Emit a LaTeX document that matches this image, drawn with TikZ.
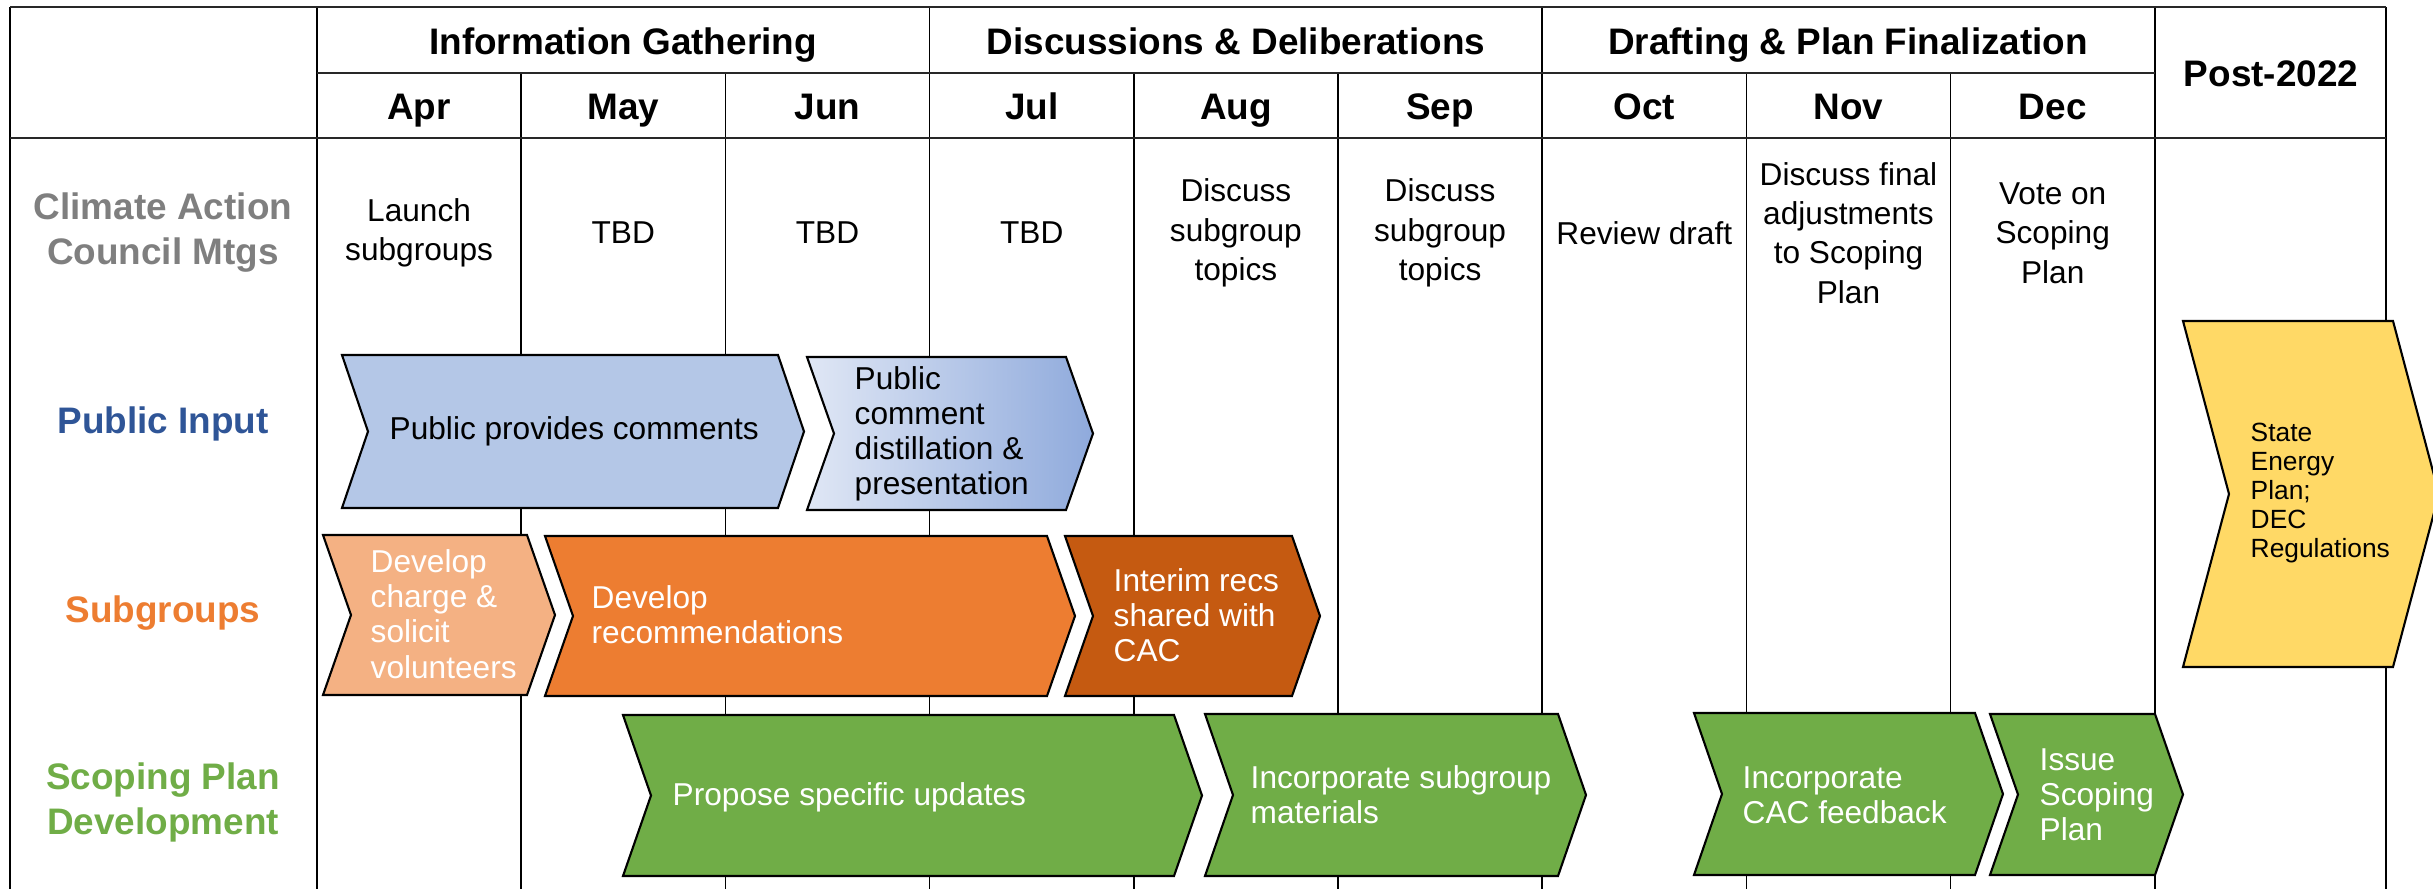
\documentclass[tikz,border=0pt]{standalone}
\usepackage{fontspec}
\setmainfont{Liberation Sans}
\definecolor{pubblue}{RGB}{180,199,231}
\definecolor{pubpale}{RGB}{224,231,245}
\definecolor{pubdeep}{RGB}{143,170,220}
\definecolor{sglight}{RGB}{244,177,131}
\definecolor{sgmid}{RGB}{237,125,49}
\definecolor{sgdark}{RGB}{197,90,17}
\definecolor{spgreen}{RGB}{112,173,71}
\definecolor{postyellow}{RGB}{255,217,102}
\definecolor{labgray}{RGB}{127,127,127}
\definecolor{labblue}{RGB}{47,85,151}
\definecolor{rulegray}{RGB}{40,40,40}
\tikzset{
  frame/.style={draw=rulegray, line width=0.8pt},
  gridline/.style={draw=black, line width=0.45pt},
  phase/.style={font=\fontsize{10.5}{12}\selectfont\bfseries, inner sep=0pt, anchor=base},
  month/.style={phase},
  rowlabel/.style={font=\fontsize{10.5}{12.8}\selectfont\bfseries, align=center, inner sep=0pt},
  cell/.style={font=\fontsize{9}{11.2}\selectfont, align=center, inner sep=0pt},
  chev/.style={draw=black, line width=0.6pt},
  chevtext/.style={font=\fontsize{9}{10}\selectfont, align=left, anchor=west, inner sep=0pt},
  posttext/.style={chevtext, font=\fontsize{7.5}{8.3}\selectfont}
}
% chevron: [depth] {style} {x left} {x right} {y top} {y bottom}
\newcommand{\chevshape}[6][28]{%
  \draw[chev,#2] (#3,#5) -- (#4,#5) -- ({#4+#1},{(#5+#6)/2}) -- (#4,#6)
    -- (#3,#6) -- ({#3+#1},{(#5+#6)/2}) -- cycle;}

\begin{document}
\begin{tikzpicture}[x=0.1mm,y=-0.1mm]
  \useasboundingbox (0,0) rectangle (2433,889);
  \clip (0,0) rectangle (2433,889);

  % table rules
  \foreach \i in {1,2,4,5,7,8}
    \draw[gridline] ({317+204.2*\i},73) -- ({317+204.2*\i},889);
  \foreach \i in {0,3,6,9}
    \draw[gridline] ({317+204.2*\i},7) -- ({317+204.2*\i},889);
  \draw[gridline] (10,7) -- (10,889);
  \draw[gridline] (2386,7) -- (2386,889);
  \draw[frame] (10,7) -- (2386,7);
  \draw[frame] (317,73) -- (2155,73);
  \draw[frame] (10,138) -- (2386,138);

  % header
  \node[phase] (info) at (623,55) {Information Gathering};
  \node[phase] (discuss) at (1236,55) {Discussions \& Deliberations};
  \node[phase] (drafting) at (1848,55) {Drafting \& Plan Finalization};
  \node[phase] (post) at (2271,87) {Post-2022};
  \foreach \m [count=\i] in {Apr,May,Jun,Jul,Aug,Sep,Oct,Nov,Dec}
    \node[month] (m\m) at ({317+204.2*(\i-0.5)},120) {\m};

  % row labels
  \node[rowlabel, text=labgray] (cacrow) at (163,233) {Climate Action\\Council Mtgs};
  \node[rowlabel, text=labblue] (pubrow) at (163,424) {Public Input};
  \node[rowlabel, text=sgmid] (sgrow) at (163,613) {Subgroups};
  \node[rowlabel, text=spgreen] (sprow) at (163,802) {Scoping Plan\\Development};

  % council meetings
  \node[cell] (cacApr) at (mApr |- cacrow) {Launch\\subgroups};
  \node[cell] (cacMay) at (mMay |- cacrow) {TBD};
  \node[cell] (cacJun) at (mJun |- cacrow) {TBD};
  \node[cell] (cacJul) at (mJul |- cacrow) {TBD};
  \node[cell] (cacAug) at (mAug |- cacrow) {Discuss\\subgroup\\topics};
  \node[cell] (cacSep) at (mSep |- cacrow) {Discuss\\subgroup\\topics};
  \node[cell] (cacOct) at (mOct |- cacrow) {Review draft};
  \node[cell] (cacNov) at (mNov |- cacrow) {Discuss final\\adjustments\\to Scoping\\Plan};
  \node[cell] (cacDec) at (mDec |- cacrow) {Vote on\\Scoping\\Plan};

  % public input
  \chevshape[26]{fill=pubblue}{342}{778}{355}{508}
  \chevshape[27]{left color=pubpale, right color=pubdeep}{807}{1066}{357}{510}
  \node[chevtext] (pubComments) at (389,431) {Public provides comments};
  \node[chevtext] (pubDistill) at (854,434) {Public\\comment\\distillation \&\\presentation};

  % subgroups
  \chevshape{fill=sglight}{323}{527}{535}{695}
  \chevshape{fill=sgmid}{545}{1047}{536}{696}
  \chevshape{fill=sgdark}{1065}{1292}{536}{696}
  \node[chevtext, text=white] (sgCharge) at (370,614) {Develop\\charge \&\\solicit\\volunteers};
  \node[chevtext, text=white] (sgRecs) at (591,615) {Develop\\recommendations};
  \node[chevtext, text=white] (sgInterim) at (1113,615) {Interim recs\\shared with\\CAC};

  % scoping plan
  \chevshape{fill=spgreen}{623}{1174}{715}{876}
  \chevshape{fill=spgreen}{1205}{1558}{714}{876}
  \chevshape{fill=spgreen}{1694}{1975}{713}{875}
  \chevshape{fill=spgreen}{1990}{2155}{714}{875}
  \node[chevtext, text=white] (spPropose) at (672,797) {Propose specific updates};
  \node[chevtext, text=white] (spIncorp) at (1250,795) {Incorporate subgroup\\materials};
  \node[chevtext, text=white] (spFeedback) at (1742,795) {Incorporate\\CAC feedback};
  \node[chevtext, text=white] (spIssue) at (2039,795) {Issue\\Scoping\\Plan};

  % post-2022
  \chevshape[46]{fill=postyellow}{2183}{2393}{321}{667}
  \node[posttext] (postPlan) at (2250,493) {State\\Energy\\Plan;\\DEC\\Regulations};
\end{tikzpicture}
\end{document}
